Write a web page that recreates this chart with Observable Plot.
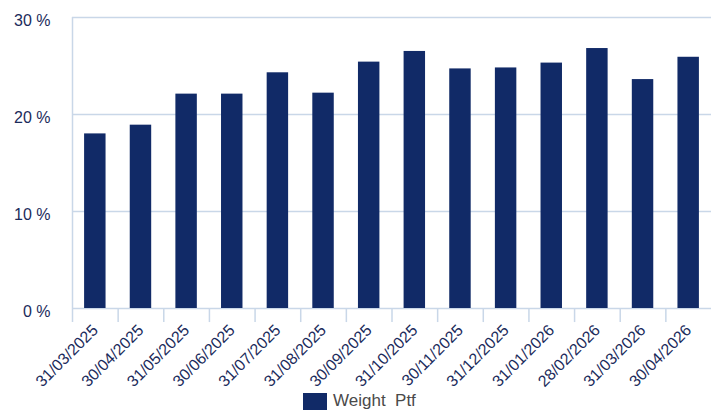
<!DOCTYPE html>
<html>
<head>
<meta charset="utf-8">
<script src="https://cdn.jsdelivr.net/npm/d3@7"></script>
<script src="https://cdn.jsdelivr.net/npm/@observablehq/plot@0.6"></script>
<style>
  html, body { margin: 0; padding: 0; background: #fff; }
  #wrap { position: relative; width: 712px; height: 410px; overflow: hidden; font-family: "Liberation Sans", Arial, sans-serif; }
  #legend { position: absolute; left: 303px; top: 392px; display: flex; align-items: flex-start; }
  #legend .sw { width: 24px; height: 18px; background: #112a67; margin-right: 6px; margin-top: 1px; }
  #legend span { font-size: 17px; line-height: 17px; color: #4a4a4a; white-space: pre; }
</style>
</head>
<body>
<div id="wrap"><div id="chart"></div>
<div id="legend"><div class="sw"></div><span>Weight  Ptf</span></div></div>
<script>
const dates = ["31/03/2025","30/04/2025","31/05/2025","30/06/2025","31/07/2025","31/08/2025","30/09/2025","31/10/2025","30/11/2025","31/12/2025","31/01/2026","28/02/2026","31/03/2026","30/04/2026"];
const weights = [18.0, 18.9, 22.1, 22.1, 24.3, 22.2, 25.4, 26.5, 24.7, 24.8, 25.3, 26.8, 23.6, 25.9];
const yTicks = [0, 10, 20, 30];
const seriesName = "Weight  Ptf";

const data = dates.map((d, i) => ({date: d, value: weights[i]}));

const W = 712, ML = 72, MR = 1;
const step = (W - ML - MR) / dates.length;
const navy = "#112a67", grid = "#c9d7e8", txt = "#1b2b5b";

const chart = Plot.plot({
  width: W,
  height: 390,
  marginLeft: ML,
  marginRight: MR,
  marginTop: 17,
  marginBottom: 82,
  style: {fontFamily: "'Liberation Sans', Arial, sans-serif", fontSize: "16px", color: txt, background: "#fff"},
  x: {domain: dates, paddingInner: 0.53, paddingOuter: 0.265, round: false, label: null},
  y: {domain: [0, 30], label: null},
  marks: [
    Plot.ruleY(yTicks.filter(t => t > 0), {stroke: grid, strokeWidth: 1.5}),
    Plot.ruleY([0], {stroke: grid, strokeWidth: 1.5}),
    Plot.ruleX(dates, {x: d => d, dx: -step / 2, y1: (d, i) => i === 0 ? 30 : 0, y2: -1.45, stroke: grid, strokeWidth: 1.5}),
    Plot.barY(data, {x: "date", y: "value", fill: navy}),
    Plot.axisY({ticks: yTicks, tickFormat: d => d + " %", tickSize: 0, tickPadding: 22, dy: 3, fontSize: 16, fill: txt}),
    Plot.axisX({tickRotate: -45, tickSize: 0, tickPadding: 19, fontSize: 16, fill: txt})
  ]
});
document.getElementById("chart").appendChild(chart);
</script>
</body>
</html>
